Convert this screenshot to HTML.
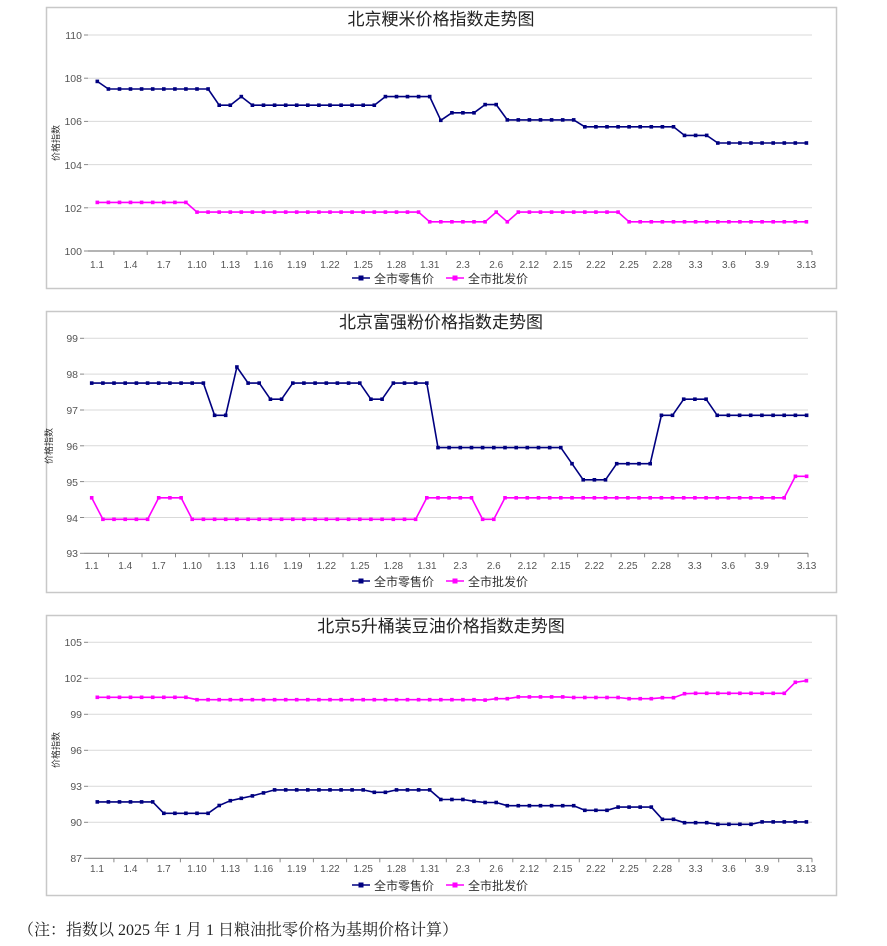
<!DOCTYPE html>
<html><head><meta charset="utf-8"><style>
body{margin:0;background:#fff;width:887px;height:946px;overflow:hidden}
svg{position:absolute;left:0;top:0}
.t{font-family:"Liberation Sans","Noto Sans CJK SC",sans-serif;font-size:17px;fill:#222}
.yl{font-family:"Liberation Sans",sans-serif;font-size:10.5px;fill:#555;text-anchor:end}
.xl{font-family:"Liberation Sans",sans-serif;font-size:10px;fill:#555;text-anchor:middle}
.lg{font-family:"Liberation Sans","Noto Sans CJK SC",sans-serif;font-size:12px;fill:#333}
.ax{font-family:"Noto Sans CJK SC",sans-serif;font-size:9px;fill:#333}
.note{position:absolute;left:18px;top:917px;font-family:"Liberation Serif","Noto Serif CJK SC",serif;font-size:16px;color:#222}
</style></head><body>
<svg id="s" width="887" height="946" xmlns="http://www.w3.org/2000/svg">
<rect x="46.5" y="7.5" width="790" height="281" fill="#fff" stroke="#c8c8c8" stroke-width="1.5"/>
<rect x="46.5" y="311.5" width="790" height="281" fill="#fff" stroke="#c8c8c8" stroke-width="1.5"/>
<rect x="46.5" y="615.5" width="790" height="280" fill="#fff" stroke="#c8c8c8" stroke-width="1.5"/>
<text class="t" x="441" y="25" text-anchor="middle">北京粳米价格指数走势图</text>
<text class="t" x="441" y="328" text-anchor="middle">北京富强粉价格指数走势图</text>
<text class="t" x="441" y="632" text-anchor="middle">北京5升桶装豆油价格指数走势图</text>
<g class="yl">
<text x="82" y="39">110</text><text x="82" y="82">108</text><text x="82" y="125">106</text><text x="82" y="169">104</text><text x="82" y="212">102</text><text x="82" y="255">100</text>
<text x="78" y="342">99</text><text x="78" y="378">98</text><text x="78" y="414">97</text><text x="78" y="450">96</text><text x="78" y="486">95</text><text x="78" y="522">94</text><text x="78" y="557">93</text>
<text x="82" y="646">105</text><text x="82" y="682">102</text><text x="82" y="718">99</text><text x="82" y="754">96</text><text x="82" y="790">93</text><text x="82" y="826">90</text><text x="82" y="862">87</text>
</g>
<text class="ax" transform="translate(59,143) rotate(-90)" text-anchor="middle">价格指数</text>
<text class="ax" transform="translate(52,446) rotate(-90)" text-anchor="middle">价格指数</text>
<text class="ax" transform="translate(59,750) rotate(-90)" text-anchor="middle">价格指数</text>
<g class="lg">
<line x1="352" y1="278" x2="370" y2="278" stroke="#000080" stroke-width="1.5"/><rect x="358.5" y="275.5" width="5" height="5" fill="#000080"/><text x="374" y="283">全市零售价</text>
<line x1="446" y1="278" x2="464" y2="278" stroke="#ff00ff" stroke-width="1.5"/><rect x="452.5" y="275.5" width="5" height="5" fill="#ff00ff"/><text x="468" y="283">全市批发价</text>
<line x1="352" y1="581" x2="370" y2="581" stroke="#000080" stroke-width="1.5"/><rect x="358.5" y="578.5" width="5" height="5" fill="#000080"/><text x="374" y="586">全市零售价</text>
<line x1="446" y1="581" x2="464" y2="581" stroke="#ff00ff" stroke-width="1.5"/><rect x="452.5" y="578.5" width="5" height="5" fill="#ff00ff"/><text x="468" y="586">全市批发价</text>
<line x1="352" y1="885" x2="370" y2="885" stroke="#000080" stroke-width="1.5"/><rect x="358.5" y="882.5" width="5" height="5" fill="#000080"/><text x="374" y="890">全市零售价</text>
<line x1="446" y1="885" x2="464" y2="885" stroke="#ff00ff" stroke-width="1.5"/><rect x="452.5" y="882.5" width="5" height="5" fill="#ff00ff"/><text x="468" y="890">全市批发价</text>
</g>
<g id="d"></g>
<g class="xl">
<text x="97" y="268">1.1</text><text x="130.5" y="268">1.4</text><text x="163.8" y="268">1.7</text><text x="197" y="268">1.10</text><text x="230.3" y="268">1.13</text><text x="263.5" y="268">1.16</text><text x="296.7" y="268">1.19</text><text x="330" y="268">1.22</text><text x="363.2" y="268">1.25</text><text x="396.5" y="268">1.28</text><text x="429.7" y="268">1.31</text><text x="462.9" y="268">2.3</text><text x="496.2" y="268">2.6</text><text x="529.4" y="268">2.12</text><text x="562.7" y="268">2.15</text><text x="595.9" y="268">2.22</text><text x="629.1" y="268">2.25</text><text x="662.4" y="268">2.28</text><text x="695.6" y="268">3.3</text><text x="728.9" y="268">3.6</text><text x="762.1" y="268">3.9</text><text x="806.4" y="268">3.13</text>
<text x="91.7" y="569">1.1</text><text x="125.2" y="569">1.4</text><text x="158.7" y="569">1.7</text><text x="192.2" y="569">1.10</text><text x="225.7" y="569">1.13</text><text x="259.2" y="569">1.16</text><text x="292.8" y="569">1.19</text><text x="326.3" y="569">1.22</text><text x="359.8" y="569">1.25</text><text x="393.3" y="569">1.28</text><text x="426.8" y="569">1.31</text><text x="460.3" y="569">2.3</text><text x="493.8" y="569">2.6</text><text x="527.3" y="569">2.12</text><text x="560.8" y="569">2.15</text><text x="594.3" y="569">2.22</text><text x="627.8" y="569">2.25</text><text x="661.3" y="569">2.28</text><text x="694.8" y="569">3.3</text><text x="728.3" y="569">3.6</text><text x="761.9" y="569">3.9</text><text x="806.6" y="569">3.13</text>
<text x="97" y="872">1.1</text><text x="130.5" y="872">1.4</text><text x="163.8" y="872">1.7</text><text x="197" y="872">1.10</text><text x="230.3" y="872">1.13</text><text x="263.5" y="872">1.16</text><text x="296.7" y="872">1.19</text><text x="330" y="872">1.22</text><text x="363.2" y="872">1.25</text><text x="396.5" y="872">1.28</text><text x="429.7" y="872">1.31</text><text x="462.9" y="872">2.3</text><text x="496.2" y="872">2.6</text><text x="529.4" y="872">2.12</text><text x="562.7" y="872">2.15</text><text x="595.9" y="872">2.22</text><text x="629.1" y="872">2.25</text><text x="662.4" y="872">2.28</text><text x="695.6" y="872">3.3</text><text x="728.9" y="872">3.6</text><text x="762.1" y="872">3.9</text><text x="806.4" y="872">3.13</text>
</g>
</svg>
<div class="note">（注：指数以 2025 年 1 月 1 日粮油批零价格为基期价格计算）</div>
<script>
function rep(a){var r=[];a.forEach(function(p){for(var i=0;i<p[1];i++)r.push(p[0]);});return r;}
var charts=[
{x0:97.3,dx:11.08,gx0:88,gx1:812,vTop:110,yTop:35,vBot:100,yBot:251,grid:[110,108,106,104,102,100],
 r:rep([[107.85,1],[107.5,10],[106.75,2],[107.15,1],[106.75,12],[107.15,5],[106.05,1],[106.4,3],[106.78,2],[106.07,7],[105.75,9],[105.35,3],[105.0,9]]),
 w:rep([[102.25,9],[101.8,21],[101.35,6],[101.8,1],[101.35,1],[101.8,10],[101.35,17]])},
{x0:91.7,dx:11.17,gx0:84,gx1:808,vTop:99,yTop:338.3,vBot:93,yBot:553.3,grid:[99,98,97,96,95,94,93],
 r:rep([[97.75,11],[96.85,2],[98.2,1],[97.75,2],[97.3,2],[97.75,7],[97.3,2],[97.75,4],[95.95,12],[95.5,1],[95.05,3],[95.5,4],[96.85,2],[97.3,3],[96.85,9]]),
 w:rep([[94.55,1],[93.95,5],[94.55,3],[93.95,21],[94.55,5],[93.95,2],[94.55,26],[95.15,2]])},
{x0:97.3,dx:11.08,gx0:88,gx1:812,vTop:105,yTop:642.3,vBot:87,yBot:858.3,grid:[105,102,99,96,93,90,87],
 r:rep([[91.7,6],[90.75,5],[91.4,1],[91.8,1],[92.0,1],[92.2,1],[92.45,1],[92.7,9],[92.5,2],[92.7,4],[91.9,3],[91.75,1],[91.65,2],[91.38,7],[91.0,3],[91.27,4],[90.25,2],[89.97,3],[89.83,4],[90.03,5]]),
 w:rep([[100.42,9],[100.22,26],[100.18,1],[100.3,2],[100.45,5],[100.4,5],[100.3,3],[100.38,2],[100.72,1],[100.75,9],[101.67,1],[101.8,1]])}
];
var g=document.getElementById("d"),h="";
charts.forEach(function(c){
 function Y(v){return c.yBot-(v-c.vBot)*(c.yBot-c.yTop)/(c.vTop-c.vBot);}
 c.grid.forEach(function(v){var y=Y(v).toFixed(1);
  h+='<line x1="'+c.gx0+'" x2="'+c.gx1+'" y1="'+y+'" y2="'+y+'" stroke="'+(v==c.vBot?'#888':'#d9d9d9')+'" stroke-width="'+(v==c.vBot?1.2:1)+'"/>';
  h+='<line x1="'+(c.gx0-4)+'" x2="'+c.gx0+'" y1="'+y+'" y2="'+y+'" stroke="#888"/>';});
 for(var k=0;k<=21;k++){var tx=c.x0+c.dx*(k*3+1.5);if(k==21)tx=c.x0+c.dx*64.5;if(tx>c.gx1)tx=c.gx1;
  h+='<line x1="'+tx.toFixed(1)+'" x2="'+tx.toFixed(1)+'" y1="'+c.yBot+'" y2="'+(c.yBot+4)+'" stroke="#888"/>';}
 [["r","#000080"],["w","#ff00ff"]].forEach(function(s){var d=c[s[0]],pts=[],m="";
  for(var i=0;i<d.length&&i<65;i++){var x=c.x0+c.dx*i,y=Y(d[i]);pts.push(x.toFixed(1)+","+y.toFixed(1));
   m+='<rect x="'+(x-1.8).toFixed(1)+'" y="'+(y-1.8).toFixed(1)+'" width="3.6" height="3.6" fill="'+s[1]+'"/>';}
  h+='<polyline points="'+pts.join(" ")+'" fill="none" stroke="'+s[1]+'" stroke-width="1.6" stroke-linejoin="round"/>'+m;});
});
g.innerHTML=h;
</script>
</body></html>
